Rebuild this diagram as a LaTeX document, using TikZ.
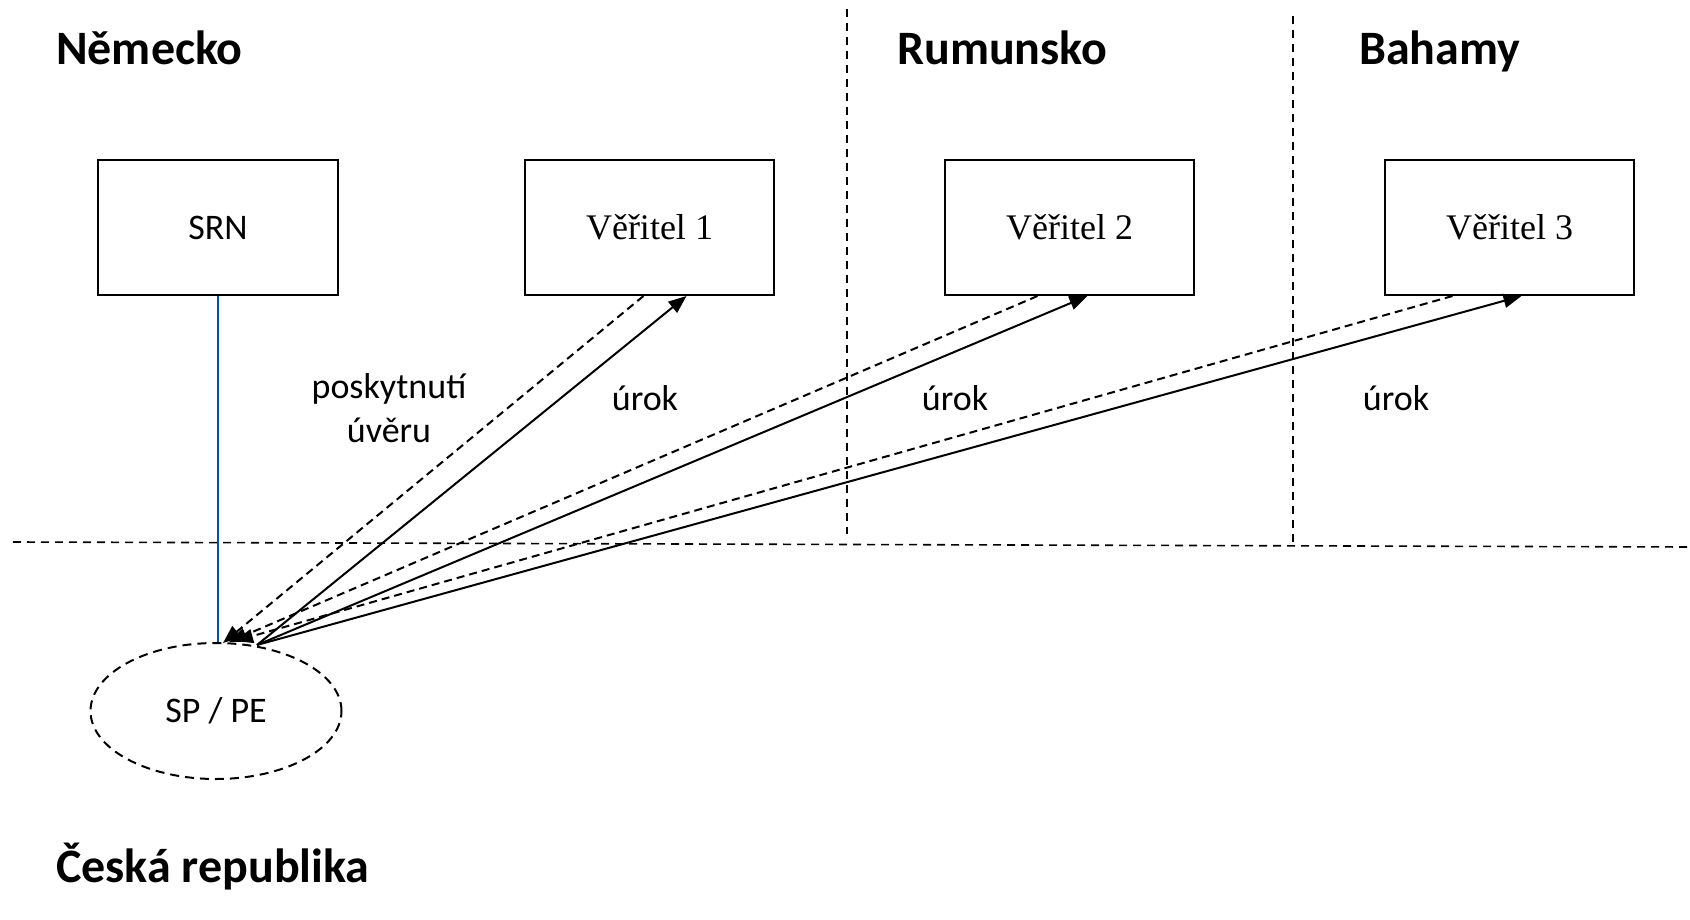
\documentclass[tikz,border=0pt]{standalone}
\usepackage{fontspec}
\setmainfont{Carlito}
\newfontfamily\serifface{Liberation Serif}
\usetikzlibrary{arrows.meta,calc,shapes.geometric}

\begin{document}
\begin{tikzpicture}[x=1pt,y=-1pt,
  country/.style={anchor=base west,inner sep=0pt,font=\bfseries\fontsize{48}{57}\selectfont},
  party/.style={draw,line width=2pt,minimum width=249pt,minimum height=135pt,inner sep=0pt},
  sanslabel/.style={font=\fontsize{36}{44}\selectfont},
  seriflabel/.style={font=\serifface\fontsize{36}{43}\selectfont},
  border/.style={line width=1.6pt,dash pattern=on 8pt off 6pt},
  loan/.style={line width=2pt,dash pattern=on 8pt off 5pt,-{Triangle[length=18pt,width=14pt]}},
  interest/.style={line width=2pt,-{Triangle[length=18pt,width=14pt]}},
  owner/.style={line width=1.5pt,draw=blue!55!cyan!70!black}
]
\useasboundingbox (0,0) rectangle (1690,920);

% country names
\node[country] (de) at (56,65) {Německo};
\node[country] (ro) at (897,65) {Rumunsko};
\node[country] (bs) at (1359,65) {Bahamy};
\node[country] (cz) at (56,882) {Česká republika};

% borders between the countries
\coordinate (b1t) at (847,9);   \coordinate (b1b) at (847,534);
\coordinate (b2t) at (1293,16); \coordinate (b2b) at (1293,542);
\coordinate (hl) at (13,542);   \coordinate (hr) at (1690,547);
\draw[border] (b1t) -- (b1b);
\draw[border] (b2t) -- (b2b);
\draw[border] (hl) -- (hr);

% parties
\node[party,minimum width=240pt,sanslabel] (srn) at (218,227.5) {SRN};
\node[party,seriflabel] (v1) at (649.5,227.5) {Věřitel 1};
\node[party,seriflabel] (v2) at (1069.5,227.5) {Věřitel 2};
\node[party,seriflabel] (v3) at (1509.5,227.5) {Věřitel 3};
\node[ellipse,draw,line width=2pt,dash pattern=on 9pt off 6pt,
      minimum width=251pt,minimum height=136pt,inner sep=0pt,sanslabel] (sp) at (216,711) {SP / PE};

% flow labels
\node[sanslabel,align=center] (loanlbl) at (389,408) {poskytnutí\\úvěru};
\node[sanslabel] (int1) at (645,398) {úrok};
\node[sanslabel] (int2) at (955,398) {úrok};
\node[sanslabel] (int3) at (1396,398) {úrok};

% ownership link
\draw[owner] (srn.south) -- (srn.south |- sp.north);

% attachment points on the permanent establishment
\coordinate (out) at (257,645);
\coordinate (in1) at (223,643);
\coordinate (in2) at (229,642);
\coordinate (in3) at (235,641);

% loans (dashed) and interest payments (solid)
\draw[loan] ($(v1.south)+(-6,0)$) -- (in1);
\draw[loan] ($(v2.south)+(-32,0)$) -- (in2);
\draw[loan] ($(v3.south)+(-57,0)$) -- (in3);
\draw[interest] (out) -- ($(v1.south)+(37,0)$);
\draw[interest] (out) -- ($(v2.south)+(18,0)$);
\draw[interest] (out) -- ($(v3.south)+(12,0)$);
\end{tikzpicture}
\end{document}
